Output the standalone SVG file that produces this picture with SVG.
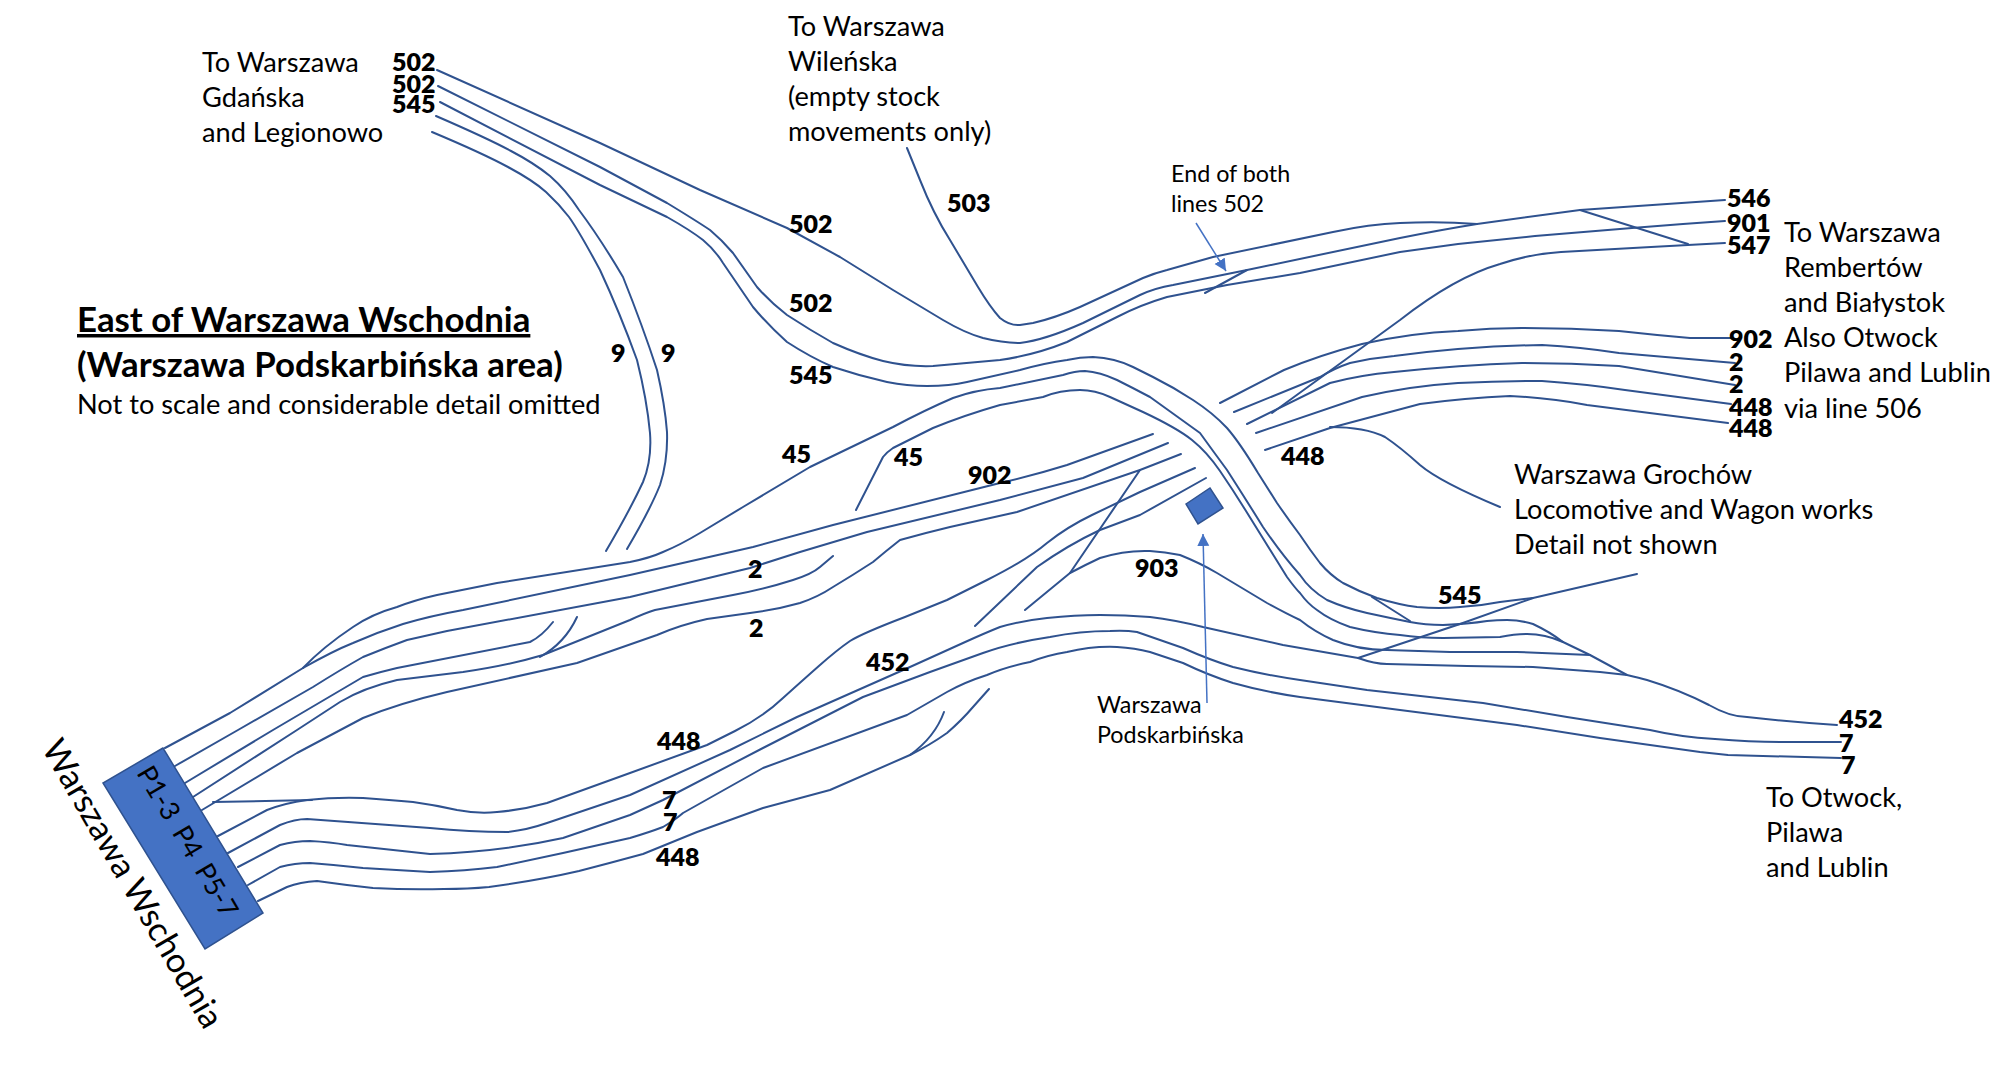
<svg xmlns="http://www.w3.org/2000/svg" width="2016" height="1065" viewBox="0 0 2016 1065">
<defs>
<marker id="ah" markerUnits="userSpaceOnUse" markerWidth="14" markerHeight="14" refX="12" refY="6" orient="auto"><path d="M0 0L12 6L0 12Z" fill="#4472C4"/></marker>
</defs>
<style>
text{font-family:Lato,"Liberation Sans",sans-serif;fill:#000}
.t{font-size:27.2px}
.s{font-size:23.3px}
.b{font-size:25px;font-weight:800}
.h{font-size:34.8px;font-weight:700}
.k path{fill:none;stroke:#2F528F;stroke-width:2;stroke-linecap:round;stroke-linejoin:round}
.a{fill:none;stroke:#4472C4;stroke-width:1.5;marker-end:url(#ah)}
.n{fill:#4472C4;stroke:#2F528F;stroke-width:1.5}
</style>
<rect width="2016" height="1065" fill="#fff"/>
<g id="connectors" class="k">
<path id="l502a" d="M437 70L600 143L700 190L787 228L840 257L893 290L943 320Q965 333 983 338Q1003 343 1020 343Q1045 340 1083 323L1140 295Q1155 288 1173 285L1247 270L1400 238Q1440 230 1477 224L1580 210L1725 200"/>
<path id="l503" d="M907 148L920 180Q933 213 950 240L978 287Q990 307 1000 318Q1010 326 1020 325L1033 323Q1055 318 1080 307L1143 278Q1155 273 1167 270L1213 257L1333 232Q1370 224 1400 223Q1440 221 1477 224"/>
<path id="l502b" d="M438 86L600 167L667 203Q695 220 710 230Q722 240 733 253Q745 270 757 287Q770 302 787 315Q810 330 833 343Q860 355 883 361Q908 367 933 366L1000 360Q1035 355 1067 342L1117 317Q1140 305 1167 297L1227 285L1300 273L1400 252L1458 244L1535 236L1632 228L1683 224L1725 221"/>
<path id="l502end" d="M1247 270L1205 293"/>
<path id="l545" d="M440 102L600 185L667 217Q690 230 703 240Q715 250 723 263Q738 285 753 307Q768 325 787 342Q810 357 833 367Q860 376 887 382Q907 386 927 386Q950 386 967 382L1020 370Q1045 363 1067 360Q1080 357 1093 357Q1115 358 1133 367L1153 377Q1173 387 1193 400Q1213 413 1227 428Q1240 443 1258 473L1277 503Q1288 519 1300 535Q1310 550 1320 563Q1330 575 1343 583Q1360 592 1377 598Q1400 605 1417 607Q1440 609 1460 607Q1480 606 1500 602L1533 598"/>
<path id="l545link" d="M1372 597L1410 621"/>
<path id="l9a" d="M432 132Q482 153 508 167Q534 181 546 192Q559 204 569 217Q579 231 600 270Q620 313 637 360Q647 400 650 433Q652 460 643 482Q630 510 606 551"/>
<path id="l9b" d="M436 116Q489 139 511 151Q534 163 550 176Q566 190 579 210Q600 238 623 277Q643 327 657 370Q665 405 667 432Q668 460 660 485Q650 510 627 549"/>
<path id="l45a" d="M303 668Q323 647 353 627Q372 614 397 607Q415 600 437 595L497 583L630 562Q650 558 663 552Q680 545 700 533L743 507L810 467L893 427Q925 410 953 398Q975 390 1000 388L1063 375Q1075 371 1085 371Q1100 372 1117 380Q1133 388 1150 397Q1175 415 1200 433Q1213 451 1227 470Q1245 498 1263 527Q1282 555 1300 575Q1310 590 1327 600Q1345 608 1367 613Q1390 618 1410 622Q1425 625 1443 625Q1468 624 1487 621Q1497 620 1507 620Q1520 620 1533 624Q1550 632 1563 642L1590 655L1627 675Q1640 678 1647 680Q1680 690 1709 705Q1730 717 1747 717Q1790 722 1837 725"/>
<path id="l45b" d="M856 510L883 457Q887 452 893 448L933 428Q965 415 1000 405L1043 397Q1060 390 1080 390Q1095 390 1110 397L1143 412Q1177 428 1192 440Q1207 452 1220 471Q1233 490 1246 511L1287 577Q1295 588 1300 593Q1308 604 1317 610Q1330 620 1350 627Q1375 633 1400 635Q1420 638 1443 638L1500 637Q1515 634 1527 634Q1545 634 1563 642"/>
<path id="l903" d="M1025 610L1070 573Q1085 565 1100 558Q1125 550 1150 551Q1165 552 1180 555Q1200 563 1217 573L1267 603Q1285 613 1300 620Q1315 632 1333 640Q1358 650 1387 650L1450 652L1517 652L1590 655"/>
<path id="l903x" d="M1140 470L1070 573"/>
<path id="r902" d="M165 748L230 713L303 668Q333 651 353 643Q378 632 403 624Q430 616 463 610L630 575L753 547L833 525L1000 483Q1035 475 1067 465L1153 434"/>
<path id="r2a" d="M175 766L238 730L313 687Q340 670 363 657Q385 648 407 640L447 631L630 597L750 568Q775 560 800 552L867 532L1000 500L1083 478L1168 443"/>
<path id="r2b" d="M185 783L273 730L363 677Q380 672 397 668L530 642Q542 636 553 622"/>
<path id="r2c" d="M193 797L297 730L340 702Q363 688 397 680L463 672Q510 665 543 655L630 620Q645 613 655 610L733 595Q765 589 793 580Q812 574 820 567L833 556"/>
<path id="r2h" d="M540 657Q565 643 577 617"/>
<path id="r2d" d="M202 810L297 753L363 718Q400 703 447 692L577 663L657 635Q680 625 707 619L750 613Q775 610 800 603Q818 597 833 587Q853 575 873 562Q886 551 900 540Q925 533 950 527L1017 512L1140 470L1181 454"/>
<path id="t448" d="M213 802L312 800"/>
<path id="b448" d="M218 836L267 810Q285 803 307 800Q335 797 363 798Q390 800 413 802Q435 805 457 810Q478 814 497 812Q522 810 547 803L630 773L707 745L735 731Q763 717 783 698Q803 680 820 665Q837 650 850 641Q863 633 905 617L947 600L987 580Q1027 560 1047 543Q1067 527 1092 515Q1117 503 1140 492L1195 468"/>
<path id="u448" d="M975 626L1037 567Q1068 545 1100 530L1140 515L1206 478"/>
<path id="b452" d="M228 853L280 825Q295 819 307 819L430 828Q470 832 507 832Q527 830 547 823L630 795L730 750L797 717L910 667L963 643Q985 633 1000 627Q1025 620 1047 618Q1075 615 1100 615Q1125 615 1150 617Q1175 620 1203 627L1283 645L1358 658Q1375 664 1387 664L1467 666L1533 667L1600 672L1627 675"/>
<path id="b7a" d="M238 867L280 845Q295 841 310 841Q330 842 347 845L430 854Q500 852 563 838L630 815L663 800L763 748L863 697L930 672L983 653Q1010 643 1050 637Q1080 631 1110 631Q1125 630 1137 632Q1160 640 1183 648Q1210 660 1233 667Q1265 675 1300 680L1367 690L1483 703L1567 717L1650 730Q1680 737 1715 739Q1750 742 1780 742L1841 742"/>
<path id="b7b" d="M248 885L280 867Q295 863 310 863Q336 865 363 868L430 872Q465 871 497 867L563 853L630 838Q650 832 663 827Q675 820 683 813L763 768L907 715L947 692Q965 682 987 675Q1005 667 1030 662Q1048 655 1067 652Q1092 646 1117 647Q1135 648 1150 652Q1165 657 1183 663Q1208 675 1233 683Q1265 692 1300 697L1400 710L1517 725L1600 738L1700 752L1728 755L1841 758"/>
<path id="b448b" d="M258 901L287 887Q300 882 317 881Q345 885 373 888Q410 890 444 889Q468 889 489 887Q540 880 579 871Q610 863 643 854L697 832L763 808L830 790L910 755Q930 745 947 733Q962 720 973 707L989 689"/>
<path id="b448h" d="M910 755Q935 737 944 712"/>
<path id="f902" d="M1220 403L1284 370Q1320 355 1362 344Q1410 333 1458 331Q1490 328 1522 328Q1570 328 1619 331Q1655 335 1690 338L1731 338"/>
<path id="f2a" d="M1234 412L1320 377Q1335 368 1350 363Q1372 358 1394 356Q1470 346 1542 345Q1580 347 1619 353L1735 363"/>
<path id="f2b" d="M1247 424L1330 383Q1360 375 1394 372Q1460 365 1522 363Q1570 363 1619 366L1735 385"/>
<path id="f448a" d="M1256 433L1362 397Q1410 386 1458 383Q1500 381 1542 381Q1585 384 1625 390L1731 404"/>
<path id="f448b" d="M1265 450L1330 428L1420 404Q1465 398 1510 396Q1550 398 1587 405L1728 423"/>
<path id="groch" d="M1330 427Q1365 427 1385 437Q1400 447 1420 465Q1440 482 1500 507"/>
<path id="l547" d="M1272 413L1400 320Q1455 277 1500 264Q1530 254 1561 252L1651 247L1725 243"/>
<path id="l547x" d="M1580 210L1688 244"/>
<path id="grochx" d="M1637 574L1533 598L1460 624L1358 658"/>
</g>
<g id="arrows">
<path class="a" d="M1196 223L1226 271"/>
<path class="a" d="M1207 703L1203 534"/>
</g>
<g id="node-wschodnia">
<polygon class="n" points="163,748 103,783 205,949 263,913"/>
<text style="font-size:27px" transform="translate(136,773) rotate(59.3)">P1-3<tspan dx="12">P4</tspan><tspan dx="12">P5-7</tspan></text>
<text style="font-size:34px" transform="translate(41,748) rotate(60)">Warszawa Wschodnia</text>
</g>
<g id="node-podskarbinska">
<polygon class="n" points="1186,504 1210,488 1223,508 1198,524"/>
<text class="s" x="1097" y="713">Warszawa</text>
<text class="s" x="1097" y="743">Podskarbińska</text>
</g>
<g id="title">
<text class="h" x="77" y="332" text-decoration="underline">East of Warszawa Wschodnia</text>
<text class="h" x="77" y="377">(Warszawa Podskarbińska area)</text>
<text class="t" x="77" y="414">Not to scale and considerable detail omitted</text>
</g>
<g id="labels">
<text class="t" x="202" y="72">To Warszawa</text>
<text class="t" x="202" y="107">Gdańska</text>
<text class="t" x="202" y="142">and Legionowo</text>
<text class="t" x="788" y="36">To Warszawa</text>
<text class="t" x="788" y="71">Wileńska</text>
<text class="t" x="788" y="106">(empty stock</text>
<text class="t" x="788" y="141">movements only)</text>
<text class="s" x="1171" y="182">End of both</text>
<text class="s" x="1171" y="212">lines 502</text>
<text class="t" x="1784" y="242">To Warszawa</text>
<text class="t" x="1784" y="277">Rembertów</text>
<text class="t" x="1784" y="312">and Białystok</text>
<text class="t" x="1784" y="347">Also Otwock</text>
<text class="t" x="1784" y="382">Pilawa and Lublin</text>
<text class="t" x="1784" y="418">via line 506</text>
<text class="t" x="1514" y="484">Warszawa Grochów</text>
<text class="t" x="1514" y="519">Locomotive and Wagon works</text>
<text class="t" x="1514" y="554">Detail not shown</text>
<text class="t" x="1766" y="807">To Otwock,</text>
<text class="t" x="1766" y="842">Pilawa</text>
<text class="t" x="1766" y="877">and Lublin</text>
</g>
<g id="line-numbers">
<text class="b" x="392" y="71">502</text><text class="b" x="392" y="93">502</text><text class="b" x="392" y="113">545</text>
<text class="b" x="947" y="212">503</text><text class="b" x="789" y="233">502</text><text class="b" x="789" y="312">502</text><text class="b" x="789" y="384">545</text>
<text class="b" x="611" y="362">9</text><text class="b" x="661" y="362">9</text>
<text class="b" x="782" y="463">45</text><text class="b" x="894" y="466">45</text><text class="b" x="968" y="484">902</text>
<text class="b" x="748" y="578">2</text><text class="b" x="749" y="637">2</text><text class="b" x="866" y="671">452</text>
<text class="b" x="657" y="750">448</text><text class="b" x="662" y="809">7</text><text class="b" x="663" y="831">7</text><text class="b" x="656" y="866">448</text>
<text class="b" x="1135" y="577">903</text><text class="b" x="1281" y="465">448</text><text class="b" x="1438" y="604">545</text>
<text class="b" x="1727" y="207">546</text><text class="b" x="1727" y="232">901</text><text class="b" x="1727" y="254">547</text>
<text class="b" x="1729" y="348">902</text><text class="b" x="1729" y="371">2</text><text class="b" x="1729" y="393">2</text><text class="b" x="1729" y="416">448</text><text class="b" x="1729" y="437">448</text>
<text class="b" x="1839" y="728">452</text><text class="b" x="1839" y="752">7</text><text class="b" x="1841" y="774">7</text>
</g>
</svg>
